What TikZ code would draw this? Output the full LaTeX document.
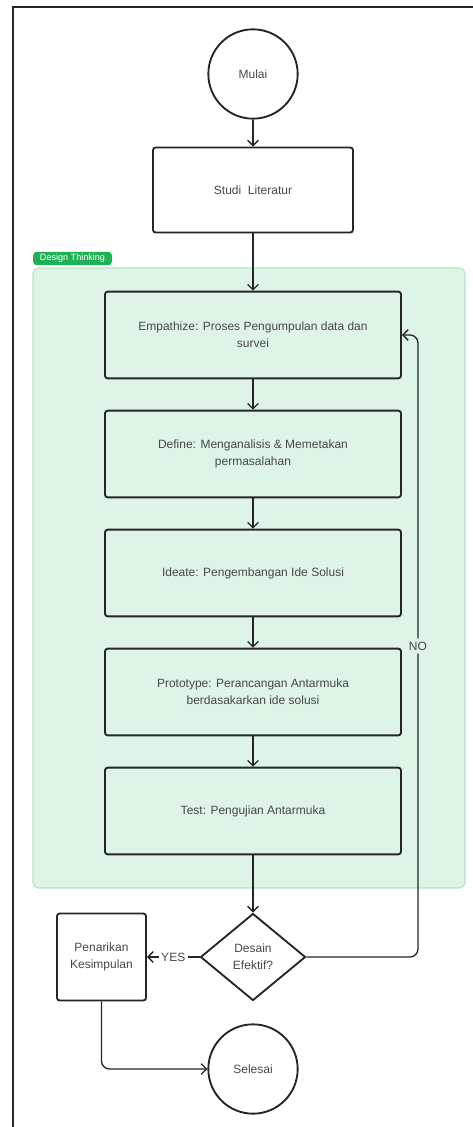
\documentclass[tikz,border=0pt]{standalone}
\usepackage{fontspec}
\setmainfont{Liberation Sans}
\usetikzlibrary{arrows.meta,positioning,shapes.geometric}
\definecolor{dtfill}{HTML}{DDF4E7}
\definecolor{dtline}{HTML}{B3E5C6}
\definecolor{dtlabel}{HTML}{1FB155}
\definecolor{ink}{HTML}{262626}
\definecolor{txt}{HTML}{484848}

\begin{document}
\begin{tikzpicture}[x=0.75pt, y=-0.75pt, >={Straight Barb[length=4pt,width=8pt]},
    node distance=89.25pt, font=\fontsize{9}{13}\selectfont, text=txt,
    terminal/.style={circle, draw=ink, line width=1.4pt, fill=white, minimum size=67pt},
    process/.style={rectangle, draw=ink, line width=1.4pt, rounded corners=2pt, align=center,
                    minimum width=222pt, minimum height=65pt},
    decision/.style={diamond, draw=ink, line width=1.4pt, fill=white, align=center, inner sep=0pt,
                     minimum width=78.75pt, minimum height=65.25pt},
    flow/.style={->, draw=ink, line width=1pt}]
    \useasboundingbox (0,0) rectangle (473,1127);

    % Frame and Design Thinking group
    \draw [ink, line width=1.6pt] (13,1127) -- (13,7) -- (473,7);
    \draw [dtline, fill=dtfill, line width=0.8pt, rounded corners=4pt] (33,268) rectangle (465,888);
    \node [fill=dtlabel, text=white, rounded corners=2.5pt, inner sep=1pt, minimum width=59pt,
           minimum height=10pt, font=\fontsize{6.8}{7}\selectfont] (dtlabel) at (72.5,258.5) {Design Thinking};

    % Nodes
    \node [terminal]                         (mulai)   at (253,74)   {Mulai};
    \node [process, fill=white, minimum width=150pt, minimum height=63.75pt]
                                             (studi)   at (253,190)  {Studi\ \ Literatur};
    \node [process]                          (emp)     at (253,335)  {Empathize: Proses Pengumpulan data dan\\survei};
    \node [process] [below of=emp]           (def)                   {Define: Menganalisis \& Memetakan\\permasalahan};
    \node [process] [below of=def]           (ideate)                {Ideate: Pengembangan Ide Solusi};
    \node [process] [below of=ideate]        (proto)                 {Prototype: Perancangan Antarmuka\\berdasakarkan ide solusi};
    \node [process] [below of=proto]         (test)                  {Test: Pengujian Antarmuka};
    \node [decision]                         (cek)     at (253,957)  {Desain\\Efektif?};
    \node [process, fill=white, minimum width=66.75pt, minimum height=65.25pt]
                                             (tarik)   at (101.5,957) {Penarikan\\Kesimpulan};
    \node [terminal]                         (selesai) at (253,1069) {Selesai};

    % Paths
    \draw [flow] (mulai)  -- (studi);
    \draw [flow] (studi)  -- (emp);
    \draw [flow] (emp)    -- (def);
    \draw [flow] (def)    -- (ideate);
    \draw [flow] (ideate) -- (proto);
    \draw [flow] (proto)  -- (test);
    \draw [flow] (test)   -- (cek);
    \draw [flow, rounded corners=6pt] (cek.east) -| node [pos=0.75, fill=dtfill, inner sep=2.5pt] {NO}
          ([xshift=12pt]emp.east) -- (emp.east);
    \draw [flow] (cek.west) -- node [fill=white, inner sep=2pt] {YES} (tarik.east);
    \draw [flow, rounded corners=6pt] (tarik.south) |- (selesai.west);
\end{tikzpicture}
\end{document}
